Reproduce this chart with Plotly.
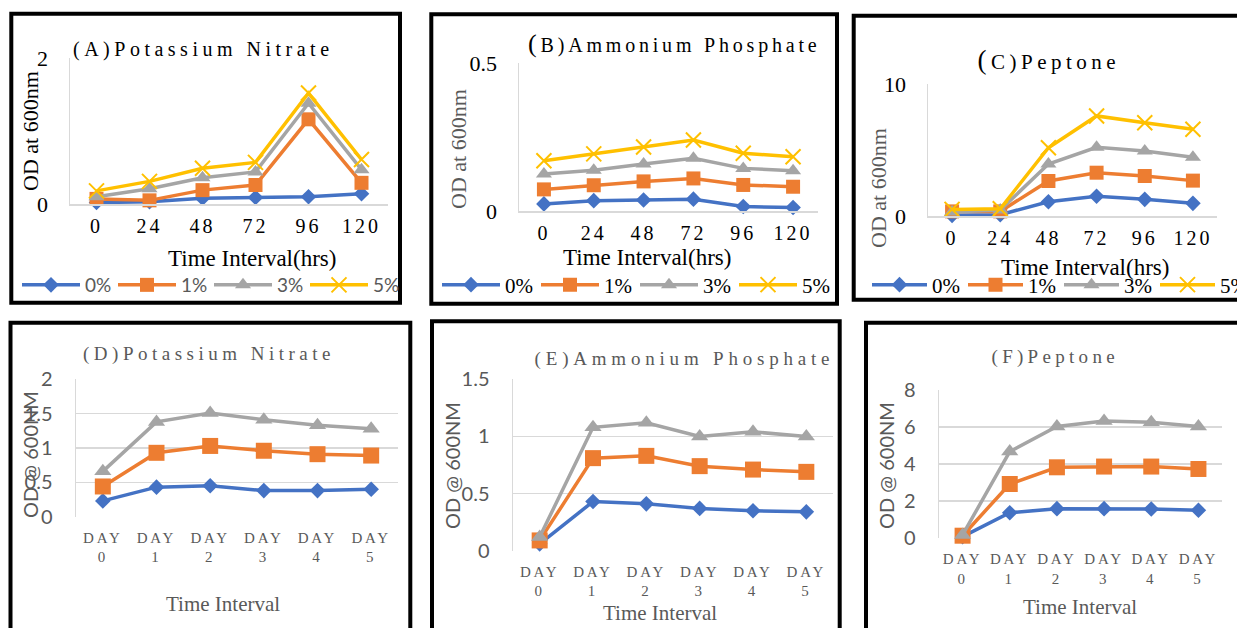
import json
import plotly.graph_objects as go

W, H = 1237, 628

# ---------------- data ----------------
hours = ["0", "24", "48", "72", "96", "120"]
days = ["DAY 0", "DAY 1", "DAY 2", "DAY 3", "DAY 4", "DAY 5"]
day_ticks = ["DAY<br>0", "DAY<br>1", "DAY<br>2", "DAY<br>3", "DAY<br>4", "DAY<br>5"]
series_names = ["0%", "1%", "3%", "5%"]

a_0 = [0.02, 0.03, 0.08, 0.09, 0.10, 0.14]
a_1 = [0.07, 0.05, 0.19, 0.26, 1.16, 0.29]
a_3 = [0.10, 0.21, 0.36, 0.44, 1.38, 0.47]
a_5 = [0.18, 0.31, 0.49, 0.57, 1.52, 0.61]

b_0 = [0.024, 0.035, 0.037, 0.040, 0.015, 0.012]
b_1 = [0.073, 0.087, 0.100, 0.110, 0.088, 0.082]
b_3 = [0.125, 0.138, 0.159, 0.178, 0.144, 0.136]
b_5 = [0.170, 0.193, 0.216, 0.240, 0.195, 0.183]

c_0 = [0.05, 0.10, 1.08, 1.50, 1.26, 0.96]
c_1 = [0.35, 0.35, 2.65, 3.28, 3.03, 2.68]
c_3 = [0.30, 0.45, 3.94, 5.20, 4.92, 4.45]
c_5 = [0.50, 0.55, 5.17, 7.58, 7.07, 6.57]

d_0 = [0.23, 0.43, 0.45, 0.38, 0.38, 0.40]
d_1 = [0.44, 0.93, 1.03, 0.96, 0.91, 0.89]
d_3 = [0.66, 1.38, 1.51, 1.41, 1.33, 1.28]

e_0 = [0.06, 0.43, 0.41, 0.37, 0.35, 0.34]
e_1 = [0.09, 0.81, 0.83, 0.74, 0.71, 0.69]
e_3 = [0.12, 1.08, 1.12, 1.00, 1.04, 1.00]

f_0 = [0.09, 1.38, 1.60, 1.60, 1.58, 1.51]
f_1 = [0.14, 2.93, 3.83, 3.87, 3.87, 3.74]
f_3 = [0.18, 4.68, 6.03, 6.33, 6.26, 6.03]

titles = ["(A)Potassium Nitrate", "(B)Ammonium Phosphate", "(C)Peptone",
          "(D)Potassium Nitrate", "(E)Ammonium Phosphate", "(F)Peptone"]
y_titles_top = "OD at 600nm"
y_titles_bottom = "OD @ 600NM"
x_title_top = "Time Interval(hrs)"
x_title_bottom = "Time Interval"

# ---------------- styles ----------------
COLORS = ["#4472C4", "#ED7D31", "#A5A5A5", "#FFC000"]
SYMBOLS = ["diamond", "square", "triangle-up", "x-thin"]
SERIF = "Liberation Serif"
SANS = "Lato"
GRAY_TXT = "#595959"
GRID = "#D9D9D9"


def fx(px):
    return px / W


def fy(py):
    return 1 - py / H


fig = go.Figure()

# panel layout: (x0, x1, y_top, y_bottom) in pixels
panels = [
    dict(data=[a_0, a_1, a_3, a_5], cats=hours, dom=(70, 388, 58, 204), yr=2, dt=2, top=True, legend="legend"),
    dict(data=[b_0, b_1, b_3, b_5], cats=hours, dom=(519, 818, 63, 211), yr=0.5, dt=0.5, top=True, legend="legend2"),
    dict(data=[c_0, c_1, c_3, c_5], cats=hours, dom=(928, 1217, 84, 216), yr=10, dt=10, top=True, legend="legend3"),
    dict(data=[d_0, d_1, d_3], cats=days, dom=(76, 398, 379.3, 516.7), yr=2, dt=0.5, top=False),
    dict(data=[e_0, e_1, e_3], cats=days, dom=(513, 833, 379.3, 550.7), yr=1.5, dt=0.5, top=False),
    dict(data=[f_0, f_1, f_3], cats=days, dom=(939, 1222, 390, 538.3), yr=8, dt=2, top=False),
]

layout = {}
for i, p in enumerate(panels):
    n = i + 1
    xa = "x" if n == 1 else f"x{n}"
    ya = "y" if n == 1 else f"y{n}"
    x0, x1, yt, yb = p["dom"]
    top = p["top"]
    for k, vals in enumerate(p["data"]):
        if top:
            msize = [12, 14, 14, 15][k]
        else:
            msize = [12, 16, 15, 15][k]
        marker = dict(symbol=SYMBOLS[k], size=msize, color=COLORS[k])
        if SYMBOLS[k] == "x-thin":
            marker["line"] = dict(color=COLORS[k], width=2)
        else:
            marker["line"] = dict(width=0)
        tr = go.Scatter(
            x=p["cats"], y=vals, mode="lines+markers", name=series_names[k],
            line=dict(color=COLORS[k], width=3.5), marker=marker,
            xaxis=xa, yaxis=ya, cliponaxis=False,
            showlegend=top, hoverinfo="skip",
        )
        if top:
            tr.legend = p["legend"]
        fig.add_trace(tr)

    xaxis = dict(
        domain=[fx(x0), fx(x1)], anchor=ya, type="category",
        categoryorder="array", categoryarray=p["cats"], range=[-0.5, 5.5],
        showgrid=False, zeroline=False, ticks="", fixedrange=True,
    )
    yaxis = dict(
        domain=[fy(yb), fy(yt)], anchor=xa, range=[0, p["yr"]], dtick=p["dt"],
        tick0=0, zeroline=False, ticks="", fixedrange=True,
        showline=True, linecolor=GRID, linewidth=1.5,
    )
    if top:
        xaxis.update(showline=True, linecolor=GRID, linewidth=1.5,
                     tickfont=dict(family=SERIF, size=20, color="#000000"),
                     ticklabelstandoff=3)
        yaxis.update(showgrid=False,
                     tickfont=dict(family=SERIF, size=22, color="#000000"),
                     ticklabelstandoff=16)
    else:
        xaxis.update(showline=False, tickvals=p["cats"], ticktext=day_ticks,
                     tickfont=dict(family=SERIF, size=15, color=GRAY_TXT),
                     ticklabelstandoff=10)
        yaxis.update(showgrid=True, gridcolor=GRID, gridwidth=1.5,
                     tickfont=dict(family=SANS, size=20, color=GRAY_TXT),
                     ticklabelstandoff=18)
    layout["xaxis" if n == 1 else f"xaxis{n}"] = xaxis
    layout["yaxis" if n == 1 else f"yaxis{n}"] = yaxis

# ---------------- boxes ----------------
boxes = [
    (11.3, 13.7, 400, 302.7),
    (431.3, 14.2, 837, 303.8),
    (853.7, 15.8, 1245, 299.7),
    (10.5, 322.7, 410.3, 640),
    (432, 321.3, 839.7, 640),
    (866, 322.8, 1245, 640),
]
shapes = []
for (l, t, r, b) in boxes:
    shapes.append(dict(type="rect", xref="paper", yref="paper",
                       x0=fx(l), x1=fx(r), y0=fy(b), y1=fy(t),
                       line=dict(color="#000000", width=4), layer="above"))

# ---------------- annotations ----------------
ann = []


def add_text(text, cx, cy, family, size, color, angle=0):
    ann.append(dict(text=text, x=fx(cx), y=fy(cy), xref="paper", yref="paper",
                    xanchor="center", yanchor="middle", showarrow=False,
                    textangle=angle, font=dict(family=family, size=size, color=color)))


# chart titles (center positions)
add_text(titles[0], 203, 49, SERIF, 20, "#000000")
add_text('<span style="font-size:26px">(</span>' + titles[1][1:], 675, 43, SERIF, 20, "#000000")
add_text('<span style="font-size:27px">(</span>' + titles[2][1:], 1049, 60, SERIF, 21, "#000000")
add_text(titles[3], 209, 354, SERIF, 19, GRAY_TXT)
add_text(titles[4], 684, 359, SERIF, 19, GRAY_TXT)
add_text(titles[5], 1055, 357, SERIF, 19, GRAY_TXT)

# y axis titles
add_text(y_titles_top, 30, 131, SERIF, 22, "#000000", -90)
add_text(y_titles_top, 458, 149, SERIF, 22, GRAY_TXT, -90)
add_text(y_titles_top, 879, 188, SERIF, 22, GRAY_TXT, -90)
add_text(y_titles_bottom, 30, 455, SANS, 20, GRAY_TXT, -90)
add_text(y_titles_bottom, 452, 466, SANS, 20, GRAY_TXT, -90)
add_text(y_titles_bottom, 886, 466, SANS, 20, GRAY_TXT, -90)

# x axis titles
add_text(x_title_top, 252, 258, SERIF, 23, "#000000")
add_text(x_title_top, 647, 257, SERIF, 23, "#000000")
add_text(x_title_top, 1085, 267, SERIF, 23, "#000000")
add_text(x_title_bottom, 223, 604, SERIF, 21, GRAY_TXT)
add_text(x_title_bottom, 660, 613, SERIF, 21, GRAY_TXT)
add_text(x_title_bottom, 1080, 607, SERIF, 21, GRAY_TXT)


# ---------------- legends ----------------
def legend_cfg(x_px, y_px, family, size, color, itemw, entry):
    return dict(orientation="h", x=fx(x_px), y=fy(y_px), xanchor="left", yanchor="middle",
                font=dict(family=family, size=size, color=color),
                bgcolor="rgba(0,0,0,0)", itemwidth=itemw, entrywidth=entry,
                entrywidthmode="pixels", tracegroupgap=0, itemclick=False,
                itemdoubleclick=False)


layout["legend"] = legend_cfg(17, 285, SANS, 19, GRAY_TXT, 58, 23)
layout["legend2"] = legend_cfg(437, 285, SERIF, 21, "#000000", 58, 26)
layout["legend3"] = legend_cfg(867, 285, SERIF, 21, "#000000", 55, 26)

fig.update_layout(
    width=W, height=H, margin=dict(l=0, r=0, t=0, b=0, pad=0, autoexpand=False),
    paper_bgcolor="white", plot_bgcolor="white",
    shapes=shapes, annotations=ann, **layout,
)

# letter spacing for titles and x tick labels (Excel-style spaced text)
title_spacing = {titles[0]: 4.5, titles[1]: 3.8, titles[2]: 4.5,
                 titles[3]: 4.5, titles[4]: 4.8, titles[5]: 4.3}
tick_spacing = {"xtick": 3, "x2tick": 3, "x3tick": 3,
                "x4tick": 2.8, "x5tick": 2.8, "x6tick": 2.8}

post = """
var gd = document.getElementById('{plot_id}');
var sp = %s;
var xs = %s;
gd.querySelectorAll('.annotation-text').forEach(function(t){
  var k = t.textContent;
  if (sp[k] !== undefined) { t.style.letterSpacing = sp[k] + 'px'; }
});
Object.keys(xs).forEach(function(c){
  gd.querySelectorAll('g.' + c + ' text').forEach(function(t){
    t.style.letterSpacing = xs[c] + 'px';
  });
});
""" % (json.dumps(title_spacing), json.dumps(tick_spacing))

fig.write_html("out.html", post_script=post, config={"displayModeBar": False, "staticPlot": True})
